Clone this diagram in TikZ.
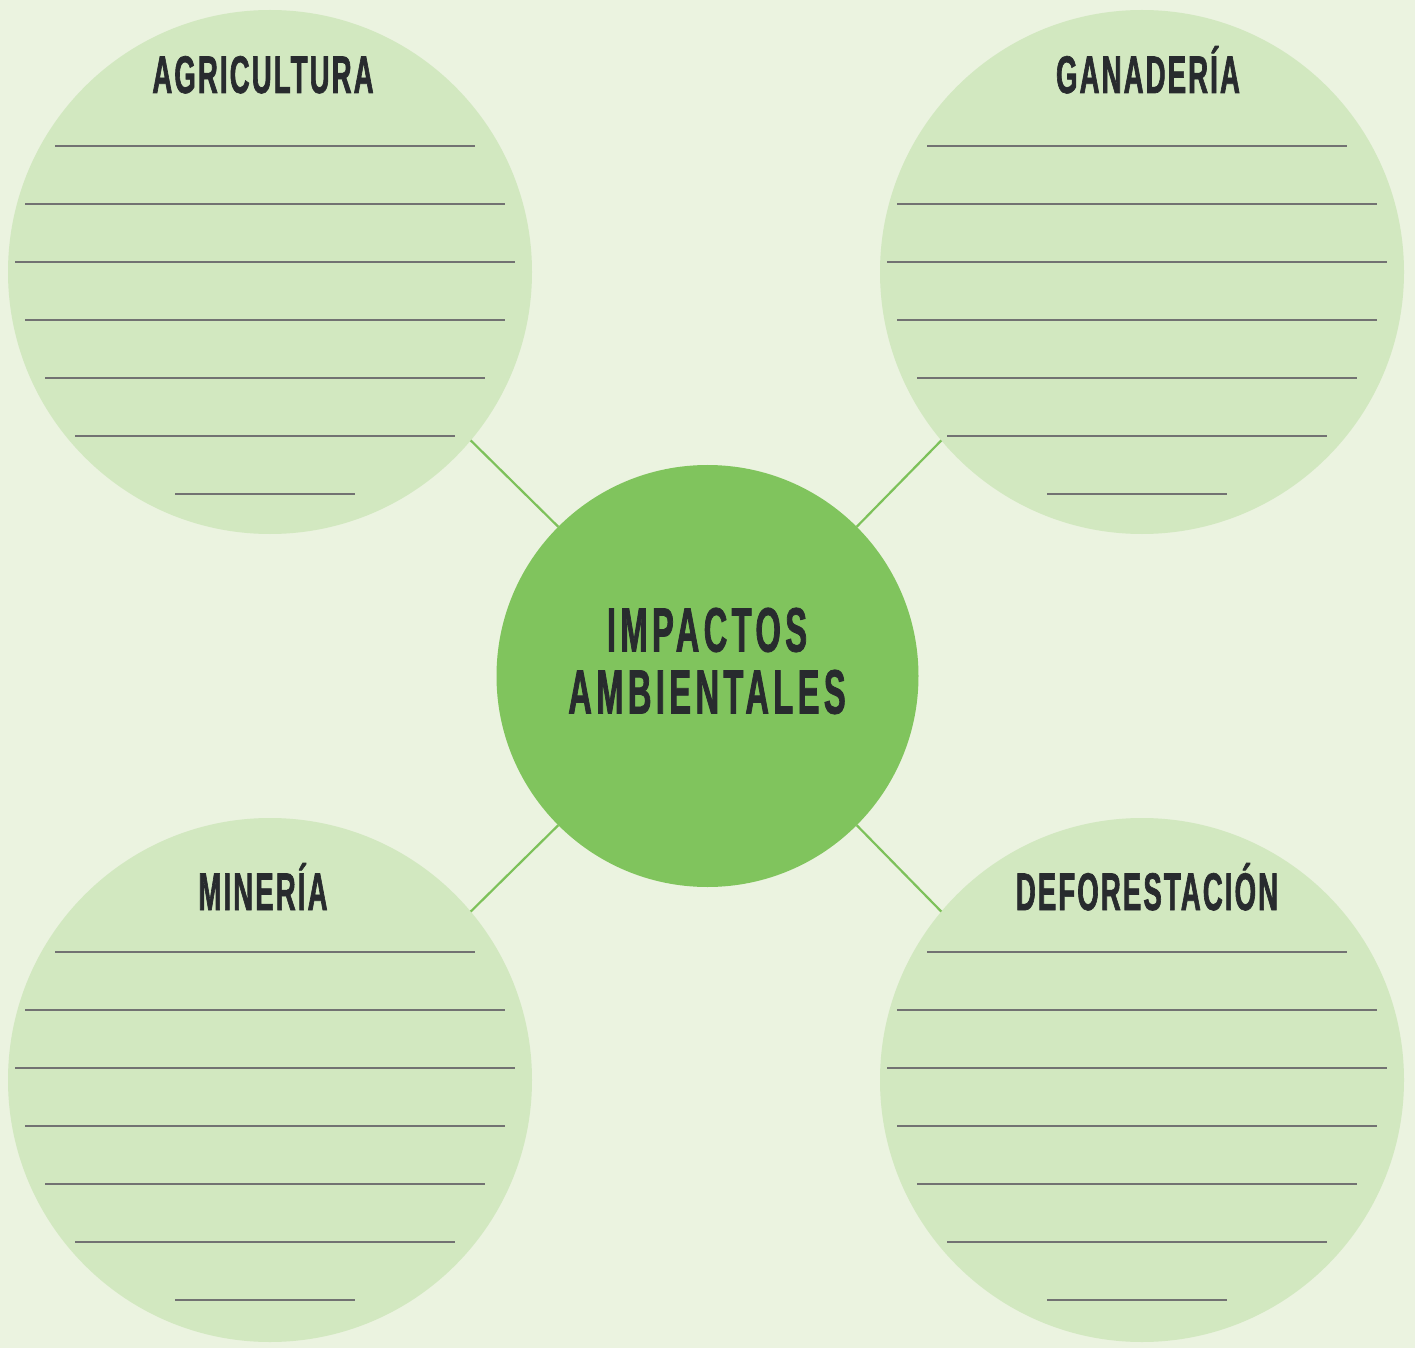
\documentclass[tikz,border=0pt]{standalone}
\usepackage{fontspec}
\newfontfamily\headfont{Liberation Sans}[FakeStretch=0.52,LetterSpace=4,FakeBold=1.2]
\newfontfamily\hubfont{Liberation Sans}[FakeStretch=0.52,LetterSpace=7,FakeBold=1.2]
\definecolor{bgcol}{HTML}{EBF3E0}
\definecolor{leafcol}{HTML}{D2E8C0}
\definecolor{hubcol}{HTML}{80C45D}
\definecolor{linkcol}{HTML}{7DC15A}
\definecolor{inkcol}{HTML}{282B2E}
\definecolor{rulecol}{HTML}{727272}
\tikzset{
  leaf/.style={circle, fill=leafcol, inner sep=0pt, outer sep=0pt, minimum size=262pt},
  hub/.style={circle, fill=hubcol, inner sep=0pt, outer sep=0pt, minimum size=211pt},
  title/.style={anchor=base, text=inkcol, font=\headfont\bfseries\fontsize{26.5}{30}\selectfont},
  hubtext/.style={text=inkcol, align=center, font=\hubfont\bfseries\fontsize{31.4}{31}\selectfont},
  link/.style={draw=linkcol, line width=1.1pt},
  rule/.style={draw=rulecol, line width=1pt}
}
% writing lines inside a topic circle: #1 = centre x, #2 = centre y
\newcommand{\writinglines}[2]{%
  \foreach \dy/\l/\r in {-126/-215/205, -68/-245/235, -10/-255/245, 48/-245/235, 106/-225/215, 164/-195/185, 222/-95/85}{
    \draw[rule] (#1+\l,#2+\dy) -- (#1+\r,#2+\dy);
  }%
}
\begin{document}
\begin{tikzpicture}[x=0.5pt,y=-0.5pt]
\fill[bgcol] (0,0) rectangle (1415,1348);
\useasboundingbox (0,0) rectangle (1415,1348);

\node[leaf] (agri) at (270,272) {};
\node[leaf] (gana) at (1142,272) {};
\node[leaf] (mine) at (270,1080) {};
\node[leaf] (defo) at (1142,1080) {};
\node[hub] (hub) at (707.5,676) {};

% diagonal spokes leave the hub at 45 degrees
\draw[link] (agri.-40) -- (hub.135);
\draw[link] (gana.-140) -- (hub.45);
\draw[link] (mine.40) -- (hub.225);
\draw[link] (defo.140) -- (hub.-45);

\node[hubtext] (hubt) at (707,661) {IMPACTOS\\AMBIENTALES};

\node[title] (agrit) at (263,93) {AGRICULTURA};
\node[title] (ganat) at (1148,93) {GANADERÍA};
\node[title] (minet) at (263,910) {MINERÍA};
\node[title] (defot) at (1147,910) {DEFORESTACIÓN};

\writinglines{270}{272}
\writinglines{1142}{272}
\writinglines{270}{1078}
\writinglines{1142}{1078}
\end{tikzpicture}
\end{document}
